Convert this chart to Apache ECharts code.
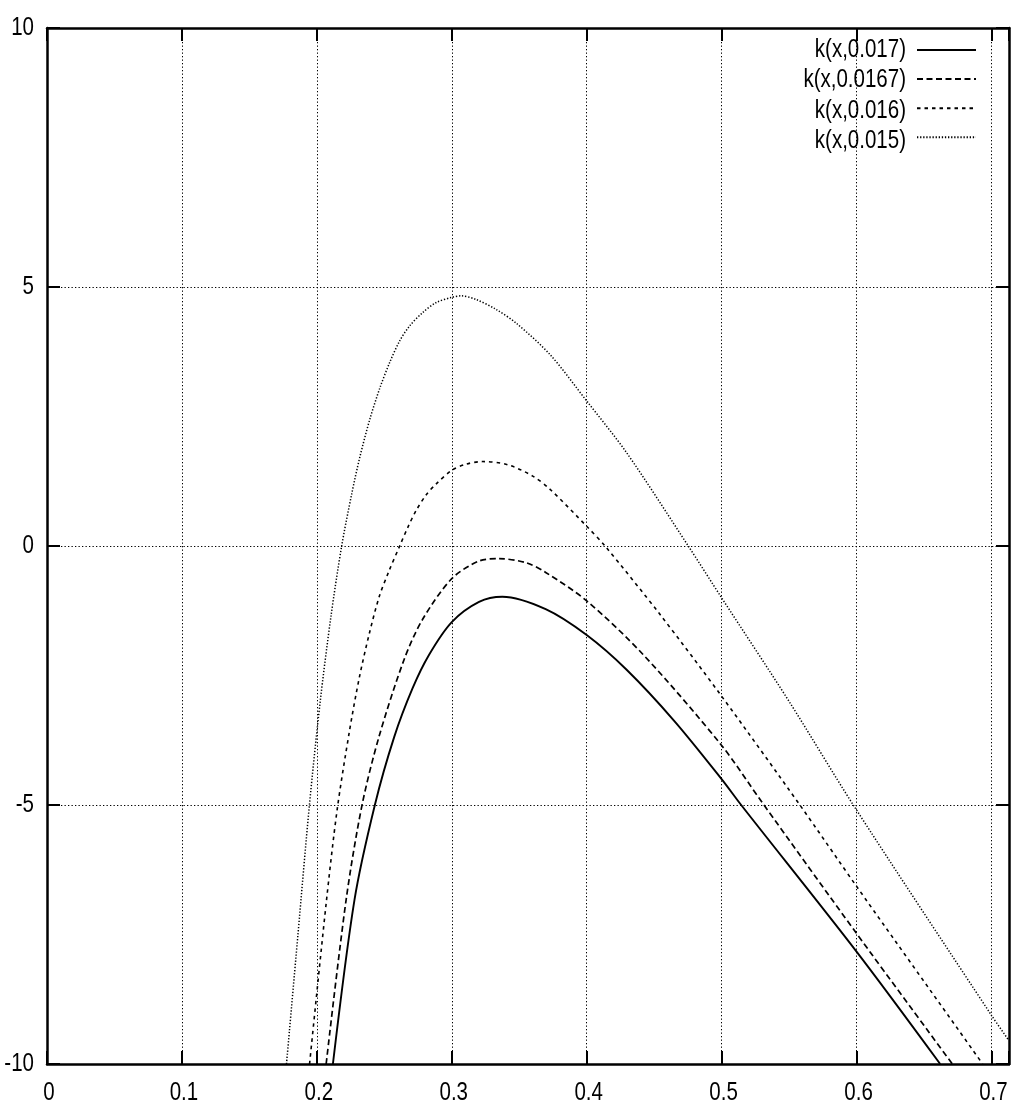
<!DOCTYPE html>
<html>
<head>
<meta charset="utf-8">
<script src="https://cdn.jsdelivr.net/npm/echarts@6/dist/echarts.min.js"></script>
<style>
html,body{margin:0;padding:0;background:#fff;}
#chart{width:1012px;height:1110px;}
</style>
</head>
<body>
<div id="chart"></div>
<script>
const xTickLabels = ['0','0.1','0.2','0.3','0.4','0.5','0.6','0.7'];
const yTickLabels = ['-10','-5','0','5','10'];
const seriesNames = ['k(x,0.017)','k(x,0.0167)','k(x,0.016)','k(x,0.015)'];

const k017X = [0.2119,0.2279,0.243,0.2573,0.2709,0.2832,0.3,0.3202,0.3375,0.3696,0.4,0.4296,0.465,0.5,0.5145,0.6,0.662];
const k017Y = [-10,-6.83,-5,-3.69,-2.75,-2.1,-1.47,-1.08,-0.98,-1.22,-1.72,-2.39,-3.38,-4.5,-5,-7.83,-10];

const k0167X = [0.2069,0.2217,0.2335,0.2462,0.2647,0.2783,0.3,0.3202,0.3351,0.3548,0.3696,0.4,0.442,0.5,0.53,0.6,0.671];
const k0167Y = [-10,-6.83,-5,-3.67,-2.19,-1.42,-0.63,-0.29,-0.245,-0.32,-0.51,-1.06,-2.1,-3.85,-4.95,-7.48,-10];

const k016X = [0.1946,0.2069,0.215,0.224,0.2314,0.2388,0.2462,0.2532,0.2614,0.2676,0.2737,0.2811,0.2885,0.3,0.3106,0.3229,0.3413,0.36,0.373,0.4,0.4136,0.454,0.5,0.558,0.6,0.6935];
const k016Y = [-10,-6.9,-5.1,-3.6,-2.55,-1.7,-0.98,-0.5,0,0.37,0.69,0.99,1.2,1.46,1.58,1.63,1.57,1.35,1.09,0.38,0,-1.31,-2.9,-5,-6.57,-10];

const k015X = [0.1775,0.186,0.1945,0.2025,0.2105,0.2184,0.2258,0.2319,0.2393,0.2467,0.2541,0.2614,0.2688,0.2786,0.2885,0.3,0.3069,0.3179,0.3327,0.3483,0.373,0.4,0.4296,0.4753,0.5,0.55,0.5976,0.7,0.713];
const k015Y = [-10,-7.5,-5.0,-3.0,-1.35,0,1.0,1.72,2.45,3.05,3.55,3.96,4.25,4.51,4.7,4.8,4.83,4.76,4.57,4.29,3.69,2.8,1.8,0,-1.0,-3.0,-5,-9.06,-9.55];

const FONT = '"Liberation Sans", Arial, sans-serif';
const NARROW = 0.82;
const pair = (xs, ys) => xs.map((x, i) => [x, ys[i]]);

const axisLine = {show: true, onZero: false, lineStyle: {color: '#000', width: 2.5}};
const axisTick = {show: true, inside: true, length: 13, lineStyle: {color: '#000', width: 2}};
const splitLine = {show: true, lineStyle: {color: '#000', width: 1, type: [1.3, 2.2]}};

const chart = echarts.init(document.getElementById('chart'), null, {renderer: 'canvas'});
chart.setOption({
  animation: false,
  backgroundColor: '#fff',
  grid: {left: 47, right: 3, top: 28, bottom: 46, containLabel: false, outerBoundsMode: 'none'},
  xAxis: [
    {type: 'value', min: 0, max: 0.713, interval: 0.1, position: 'bottom',
     axisLine, axisTick, splitLine, axisLabel: {show: false}},
    {type: 'value', min: 0, max: 0.713, interval: 0.1, position: 'top',
     axisLine, axisTick, splitLine: {show: false}, axisLabel: {show: false}}
  ],
  yAxis: [
    {type: 'value', min: -10, max: 10, interval: 5, position: 'left',
     axisLine, axisTick, splitLine, axisLabel: {show: false}},
    {type: 'value', min: -10, max: 10, interval: 5, position: 'right',
     axisLine, axisTick, splitLine: {show: false}, axisLabel: {show: false}}
  ],
  legend: {
    orient: 'vertical', right: 35, top: 43, align: 'right', padding: 0,
    itemWidth: 59, itemHeight: 14, itemGap: 16.5, selectedMode: false,
    itemStyle: {opacity: 0},
    data: seriesNames,
    formatter: () => ''
  },
  series: [
    {name: seriesNames[0], type: 'line', data: pair(k017X, k017Y), symbol: 'none', smooth: 0.3, silent: true,
     lineStyle: {color: '#000', width: 1.9, type: 'solid'}, itemStyle: {color: '#000'}},
    {name: seriesNames[1], type: 'line', data: pair(k0167X, k0167Y), symbol: 'none', smooth: 0.3, silent: true,
     lineStyle: {color: '#000', width: 1.7, type: [6, 3.5]}, itemStyle: {color: '#000'}},
    {name: seriesNames[2], type: 'line', data: pair(k016X, k016Y), symbol: 'none', smooth: 0.3, silent: true,
     lineStyle: {color: '#000', width: 1.6, type: [3.5, 4]}, itemStyle: {color: '#000'}},
    {name: seriesNames[3], type: 'line', data: pair(k015X, k015Y), symbol: 'none', smooth: 0.3, silent: true,
     lineStyle: {color: '#000', width: 1.5, type: [1.3, 1.8]}, itemStyle: {color: '#000'}}
  ]
});

// Narrow (Helvetica-Narrow-like) text: tick labels placed through the axes' own scales.
const txt = (text, x, y, align) => ({
  type: 'text', x, y, scaleX: NARROW, silent: true,
  style: {text, fontSize: 25, fontFamily: FONT, fill: '#000', align, verticalAlign: 'middle'}
});
const g = [];
xTickLabels.forEach(t => {
  const p = chart.convertToPixel({gridIndex: 0}, [parseFloat(t), -10]);
  g.push(txt(t, p[0] + 2, p[1] + 29, 'center'));
});
yTickLabels.forEach(t => {
  const p = chart.convertToPixel({gridIndex: 0}, [0, parseFloat(t)]);
  g.push(txt(t, p[0] - 13, p[1], 'right'));
});
seriesNames.forEach((name, i) => {
  g.push(txt(name, 906, 50 + i * 30.5, 'right'));
});
chart.setOption({graphic: g});
</script>
</body>
</html>
